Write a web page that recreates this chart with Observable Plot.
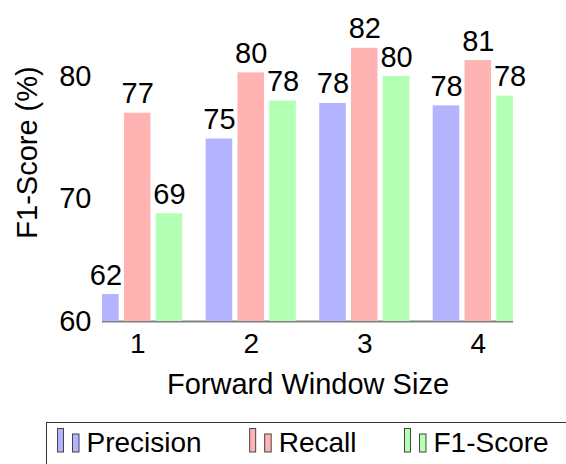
<!DOCTYPE html>
<html><head><meta charset="utf-8">
<script src="https://cdn.jsdelivr.net/npm/d3@7"></script>
<script src="https://cdn.jsdelivr.net/npm/@observablehq/plot@0.6"></script>
<style>
body{margin:0;background:#fff;font-family:"Liberation Sans",Arial,sans-serif;}
#chart svg{display:block}
</style></head><body><div id="chart"></div>
<script>
const groups = [1, 2, 3, 4];
const seriesNames = ["Precision", "Recall", "F1-Score"];
const precision = [62.2, 74.9, 77.8, 77.6];
const recall = [77.0, 80.3, 82.3, 81.3];
const f1Score = [68.8, 78.0, 80.0, 78.4];
const seriesColors = ["#b3b3ff", "#ffb3b3", "#b3ffb3"];
const yTicks = [60, 70, 80];
const xLabel = "Forward Window Size";
const yLabel = "F1-Score (%)";

const seriesValues = [precision, recall, f1Score];
const offset = 0.28, halfW = 0.117;
const rows = [];
seriesNames.forEach((s, si) => groups.forEach((g, gi) => rows.push({
  group: g, series: s, value: seriesValues[si][gi], center: g + (si - 1) * offset
})));

const plot = Plot.plot({
  width: 566, height: 420,
  marginLeft: 102, marginRight: 53, marginTop: 27, marginBottom: 99,
  style: {fontFamily: "Liberation Sans, Arial, sans-serif", fontSize: "28px", color: "#000", background: "#fff"},
  x: {type: "linear", domain: [0.69, 4.31]},
  y: {domain: [60, 84]},
  color: {domain: seriesNames, range: seriesColors},
  marks: [
    Plot.ruleY([60], {stroke: "#808080", strokeWidth: 2}),
    Plot.rect(rows, {x1: d => d.center - halfW, x2: d => d.center + halfW, y1: () => 60, y2: "value", fill: "series", clip: true}),
    Plot.text(rows, {x: "center", y: "value", text: d => String(Math.round(d.value)), lineAnchor: "bottom", dy: -10, fontSize: 29, fill: "#000"}),
    Plot.axisX({ticks: groups, tickFormat: d => String(d), tickSize: 0, tickPadding: 12, fontSize: 28, label: null}),
    Plot.axisY({ticks: yTicks, tickSize: 0, tickPadding: 11, fontSize: 29, label: null}),
    Plot.text([xLabel], {frameAnchor: "bottom", dy: 72, lineAnchor: "bottom", fontSize: 29, fill: "#000"}),
    Plot.text([yLabel], {frameAnchor: "left", textAnchor: "middle", lineAnchor: "middle", rotate: -90, dx: -75, dy: -22, fontSize: 29, fill: "#000"})
  ]
});
document.getElementById("chart").appendChild(plot);

// legend below the plot
const leg = d3.select("#chart").append("svg")
  .attr("width", 566).attr("height", 44).style("display", "block")
  .style("font-family", "Liberation Sans, Arial, sans-serif");
leg.append("rect").attr("x", 46.5).attr("y", 2.5).attr("width", 600).attr("height", 100)
  .attr("fill", "none").attr("stroke", "#333").attr("stroke-width", 1);
let lx = 57.5;
seriesNames.forEach((s, i) => {
  leg.append("rect").attr("x", lx).attr("y", 8.5).attr("width", 6).attr("height", 23.5)
    .attr("fill", seriesColors[i]).attr("stroke", "#444").attr("stroke-width", 1);
  leg.append("rect").attr("x", lx + 15).attr("y", 14).attr("width", 6.5).attr("height", 18)
    .attr("fill", seriesColors[i]).attr("stroke", "#444").attr("stroke-width", 1);
  const t = leg.append("text").attr("x", lx + 29).attr("y", 32.3).attr("font-size", 28)
    .attr("fill", "#000").text(s);
  lx = lx + 29 + t.node().getComputedTextLength() + 48;
});
</script></body></html>
